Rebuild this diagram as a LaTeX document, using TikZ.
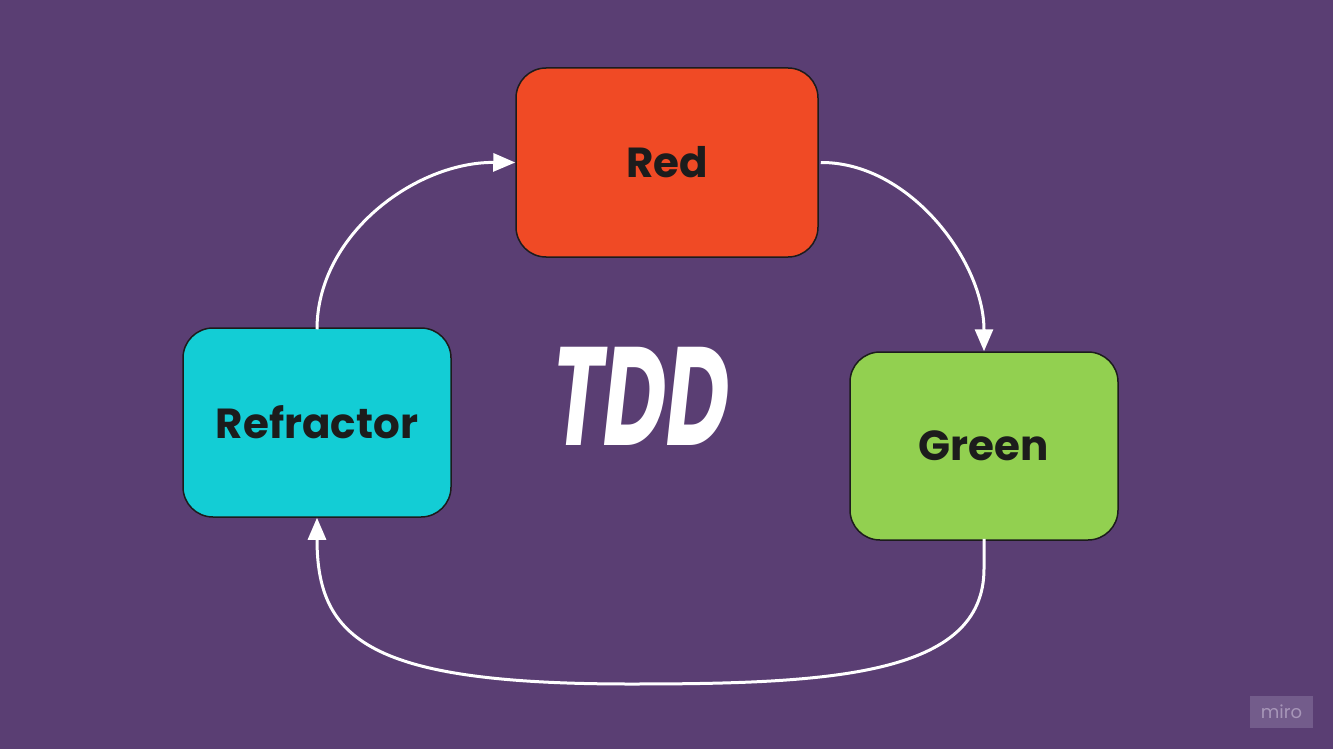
\documentclass[tikz,border=0pt]{standalone}
\usepackage{fontspec}
\setmainfont{Poppins}
\newfontfamily\lbl[UprightFont=* Bold]{Poppins}
\newfontfamily\tdd[UprightFont=* Bold Italic]{Poppins}
\usetikzlibrary{arrows.meta,calc}
\definecolor{bg}{HTML}{5A3E73}
\definecolor{redc}{HTML}{F04A25}
\definecolor{cyanc}{HTML}{13CDD5}
\definecolor{greenc}{HTML}{92D050}
\definecolor{edgec}{HTML}{1C1C1C}
\definecolor{mirobg}{HTML}{735C8B}
\definecolor{mirotx}{HTML}{A796B8}
\tikzset{
  box/.style={draw=edgec, line width=1.5pt, rounded corners=30pt, inner sep=0pt,
    font=\lbl\fontsize{42}{48}\selectfont, text=edgec},
  flow/.style={draw=white, line width=3pt, -{Triangle[length=22pt,width=18pt]}},
}
\begin{document}
\begin{tikzpicture}[x=1pt,y=-1pt]
\fill[bg] (0,0) rectangle (1333,749);
\useasboundingbox (0,0) rectangle (1333,749);
\node[box, fill=redc, minimum width=302pt, minimum height=189pt] (red) at (667,162.5) {Red};
\node[box, fill=cyanc, minimum width=268pt, minimum height=189pt] (ref) at (317,422.5) {Refractor};
\node[box, fill=greenc, minimum width=268pt, minimum height=188pt] (green) at (984,446) {Green};
\node[text=white, font=\tdd\fontsize{140}{150}\selectfont, xscale=0.62] (tdd) at (641,396) {TDD};
\node[fill=mirobg, minimum width=63pt, minimum height=32pt, inner sep=0pt,
  text=mirotx, font=\fontsize{18}{20}\selectfont] (miro) at (1281.5,712) {miro};
\draw[flow] ([yshift=-2pt]ref.north) .. controls (317,235) and (415,162) .. (red.west);
\draw[flow] ([xshift=2pt]red.east) .. controls (910,162) and (984,262) .. (green.north);
\draw[flow] ([yshift=2pt]green.south) -- ++(0,30) .. controls (984,676) and (830,684) .. (630,684) .. controls (370,684) and (317,640) .. (ref.south);
\end{tikzpicture}
\end{document}
